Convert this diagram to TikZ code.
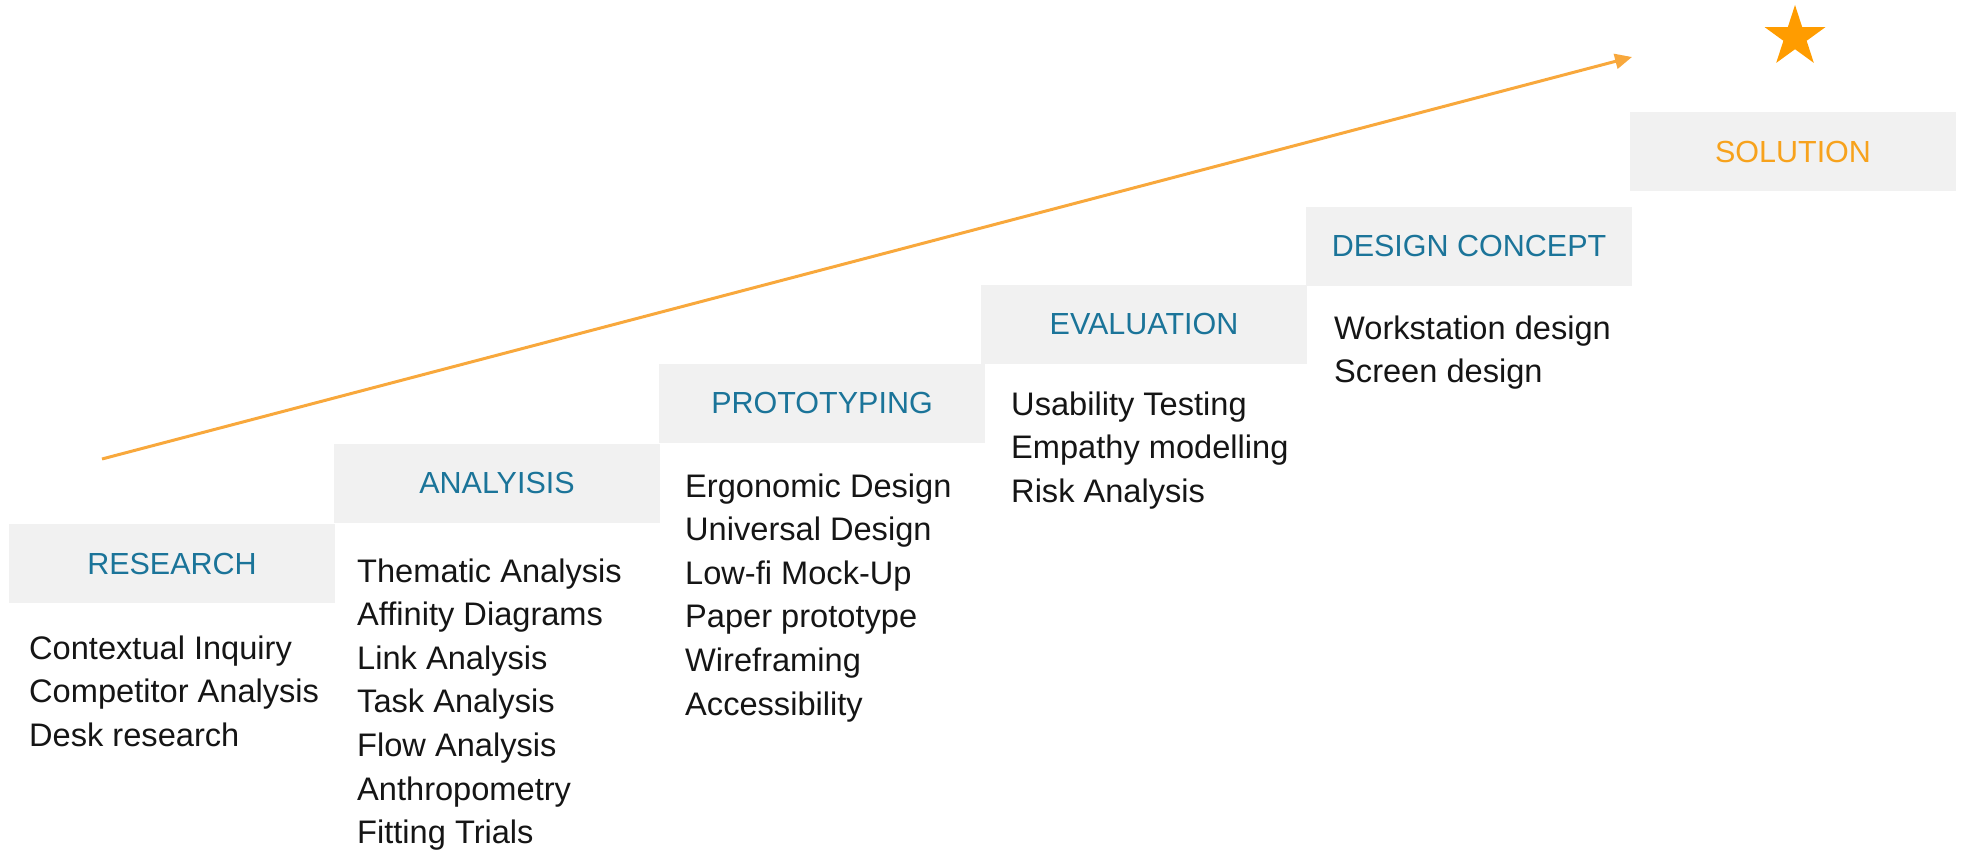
\documentclass[tikz,border=0pt]{standalone}
\usepackage{fontspec}
\setmainfont{Liberation Sans}
\usetikzlibrary{arrows.meta,shapes.geometric}

\definecolor{boxgray}{HTML}{F1F1F1}
\definecolor{labelteal}{HTML}{1B7499}
\definecolor{arroworange}{HTML}{F8A83C}
\definecolor{starorange}{HTML}{FF9C00}
\definecolor{solorange}{HTML}{F7A21C}
\definecolor{bodyink}{HTML}{151515}

\tikzset{
  stagebox/.style={fill=boxgray, draw=none, minimum width=326pt, minimum height=79pt,
    inner sep=0pt, text=labelteal, font=\fontsize{30.5}{36}\selectfont},
  itemlist/.style={anchor=base west, inner sep=0pt, text=bodyink,
    font=\fontsize{32.6}{43.6}\selectfont},
  progress/.style={draw=arroworange, line width=3pt,
    -{Triangle[length=17pt,width=15pt]}},
}

\newcommand{\itemstack}[1]{\begin{tabular}[t]{@{}l@{}}#1\end{tabular}}

\begin{document}
\begin{tikzpicture}[x=1pt,y=-1pt]
  \useasboundingbox (0,0) rectangle (1961,853);

  % stage headers, stepping up to the right
  \node[stagebox] (research) at (172,563.5) {RESEARCH};
  \node[stagebox] (analysis) at (497,483) {ANALYISIS};
  \node[stagebox] (proto)    at (822,403) {PROTOTYPING};
  \node[stagebox] (eval)     at (1144,324) {EVALUATION};
  \node[stagebox] (concept)  at (1469,246) {DESIGN CONCEPT};
  \node[stagebox, text=solorange] (solution) at (1793,152) {SOLUTION};

  % methods under each stage
  \node[itemlist] (researchlist) at (29,659) {\itemstack{Contextual Inquiry\\Competitor Analysis\\Desk research}};
  \node[itemlist] (analysislist) at (357,582) {\itemstack{Thematic Analysis\\Affinity Diagrams\\Link Analysis\\Task Analysis\\Flow Analysis\\Anthropometry\\Fitting Trials}};
  \node[itemlist] (protolist) at (685,497) {\itemstack{Ergonomic Design\\Universal Design\\Low-fi Mock-Up\\Paper prototype\\Wireframing\\Accessibility}};
  \node[itemlist] (evallist) at (1011,415) {\itemstack{Usability Testing\\Empathy modelling\\Risk Analysis}};
  \node[itemlist] (conceptlist) at (1334,339) {\itemstack{Workstation design\\Screen design}};

  % rising progress arrow and goal star
  \coordinate (arrowstart) at (102,459);
  \coordinate (arrowend) at (1632,57);
  \draw[progress] (arrowstart) -- (arrowend);

  \node[star, star points=5, star point ratio=2.618, minimum size=64pt, inner sep=0pt,
        fill=starorange, draw=none] (goal) at (1795,37) {};
\end{tikzpicture}
\end{document}
